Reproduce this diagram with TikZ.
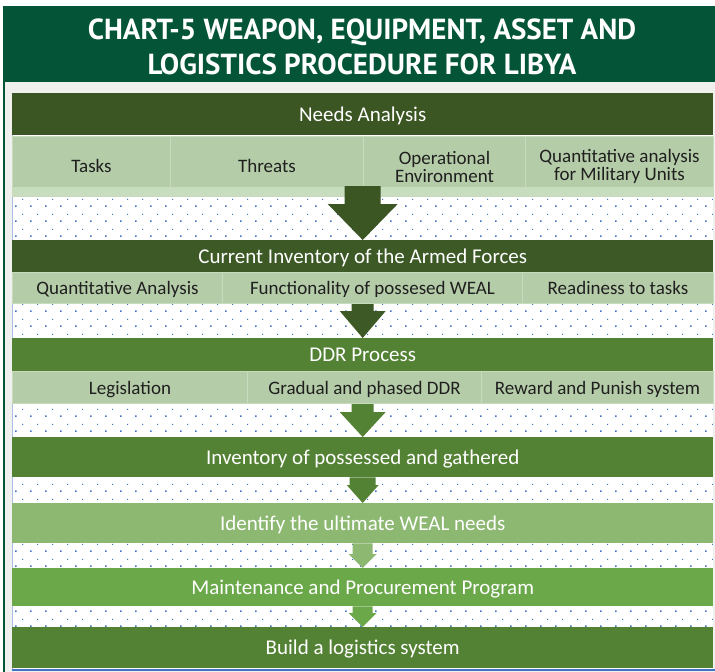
\documentclass[tikz,border=0pt]{standalone}
\usepackage{fontspec}
\setmainfont{Carlito}
\newfontfamily\titlefont{PT Sans}
\usepackage{xcolor}
\usetikzlibrary{positioning,calc,patterns}

\definecolor{headgreen}{HTML}{045538}
\definecolor{darkband}{HTML}{3B5623}
\definecolor{invband}{HTML}{3D5A26}
\definecolor{midband}{HTML}{548235}
\definecolor{lightband}{HTML}{8DB872}
\definecolor{maintband}{HTML}{6AA84A}
\definecolor{cellgreen}{HTML}{B5CCA8}
\definecolor{celledge}{HTML}{C9DBBF}
\definecolor{stripgreen}{HTML}{C8DCBE}
\definecolor{dotblue}{HTML}{4472C4}
\definecolor{panelgray}{HTML}{F0F0EF}

\pgfdeclarepatternformonly{wealdots}{\pgfqpoint{0pt}{0pt}}{\pgfqpoint{15pt}{15pt}}{\pgfqpoint{15pt}{15pt}}{%
  \pgfpathrectangle{\pgfqpoint{0pt}{0pt}}{\pgfqpoint{1.7pt}{1.7pt}}%
  \pgfpathrectangle{\pgfqpoint{7.5pt}{7.5pt}}{\pgfqpoint{1.2pt}{1.2pt}}%
  \pgfusepath{fill}}

% block arrow: colour, from, to-node, stem half, head half, head height
\newcommand{\blockarrow}[6]{%
  \fill[#1] let \p1=(#2), \p2=(#3.north) in
    (\x2-#4pt,\y1) -- (\x2+#4pt,\y1) -- (\x2+#4pt,\y2+#6pt) -- (\x2+#5pt,\y2+#6pt)
    -- (\x2,\y2) -- (\x2-#5pt,\y2+#6pt) -- (\x2-#4pt,\y2+#6pt) -- cycle;}

\begin{document}
\begin{tikzpicture}[x=1pt, y=-1pt,
    band/.style={rectangle, anchor=north west, inner sep=0pt, minimum width=701pt,
      text height=15pt, text depth=1pt, text=white, font=\fontsize{21}{24}\selectfont},
    cellbase/.style={rectangle, anchor=north west, inner sep=0pt, fill=cellgreen,
      draw=celledge, line width=1pt, text=black!88, align=center,
      font=\fontsize{19}{18}\selectfont},
    cell/.style={cellbase, text height=14pt, text depth=1pt},
    topcell/.style={cellbase, minimum height=60pt, path picture={\fill[stripgreen]
      ([yshift=10pt]path picture bounding box.south west) rectangle (path picture bounding box.south east);}}]
  \useasboundingbox (0,0) rectangle (715,672);

  % Frame and heading
  \fill[panelgray] (3,82) rectangle (715,672);
  \fill[headgreen] (3,6) rectangle (715,82);
  \draw[headgreen, line width=1.5pt] (3.75,82) -- (3.75,672);
  \node[font=\titlefont\bfseries\fontsize{29}{35}\selectfont, text=white, align=center]
    (title) at (362,47) {CHART-5 WEAPON, EQUIPMENT, ASSET AND\\LOGISTICS PROCEDURE FOR LIBYA};

  % Dotted panel
  \fill[white] (12,93) rectangle (713,669);
  \fill[pattern=wealdots, pattern color=dotblue] (12,93) rectangle (713,669);
  \draw[dotblue!45, line width=0.8pt] (12.4,93) -- (12.4,669);
  \draw[dotblue, line width=2pt] (12,669.5) -- (715,669.5);

  % Needs Analysis
  \node[band, fill=darkband, minimum height=42pt] (needs) at (12,93) {Needs Analysis};
  \node[topcell, text height=14pt, text depth=3pt, minimum width=158pt] (tasks) at (12,136) {Tasks};
  \node[topcell, text height=14pt, text depth=3pt, minimum width=193pt] (threats) at (170,136) {Threats};
  \node[topcell, minimum width=162pt] (openv) at (363,136) {Operational\\Environment};
  \node[topcell, minimum width=188pt] (qmil) at (525,136) {Quantitative analysis\\for Military Units};
  \coordinate (nastrip) at (364,186);

  % Current Inventory
  \node[band, fill=invband, minimum height=32pt] (curinv) at (12,240) {Current Inventory of the Armed Forces};
  \node[cell, minimum width=210pt, minimum height=31pt] (qana) at (12,272) {Quantitative Analysis};
  \node[cell, minimum width=300pt, minimum height=31pt] (func) at (222,272) {Functionality of possesed WEAL};
  \node[cell, minimum width=191pt, minimum height=31pt] (ready) at (522,272) {Readiness to tasks};

  % DDR
  \node[band, fill=midband, minimum height=33pt] (ddr) at (12,338) {DDR Process};
  \node[cell, minimum width=235pt, minimum height=32pt] (legis) at (12,371) {Legislation};
  \node[cell, minimum width=234pt, minimum height=32pt] (gradual) at (247,371) {Gradual and phased DDR};
  \node[cell, minimum width=232pt, minimum height=32pt] (reward) at (481,371) {Reward and Punish system};

  % Remaining steps
  \node[band, fill=midband, minimum height=40pt] (inv) at (12,437) {Inventory of possessed and gathered};
  \node[band, fill=lightband, minimum height=40pt] (ident) at (12,503) {Identify the ultimate WEAL needs};
  \node[band, fill=maintband, minimum height=38pt] (maint) at (12,568) {Maintenance and Procurement Program};
  \node[band, fill=midband, minimum height=41pt] (build) at (12,627) {Build a logistics system};

  % Arrows
  \blockarrow{darkband}{nastrip}{curinv}{18}{35}{36}
  \blockarrow{invband}{qana.south}{ddr}{11}{23}{27}
  \blockarrow{midband}{legis.south}{inv}{11}{23}{25}
  \blockarrow{midband}{inv.south}{ident}{13}{16}{18}
  \blockarrow{lightband}{ident.south}{maint}{10}{14}{14}
  \blockarrow{maintband}{maint.south}{build}{10}{14}{14}
\end{tikzpicture}
\end{document}
